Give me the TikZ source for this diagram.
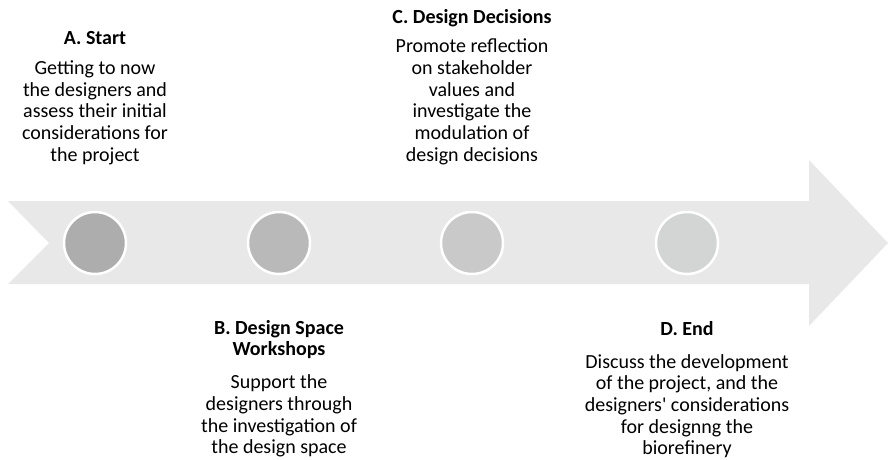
\documentclass[tikz,border=0pt]{standalone}
\usepackage{fontspec}
\setmainfont{Carlito}[Ligatures=TeXOff]
\usepackage{xcolor}
\usetikzlibrary{positioning}
\definecolor{bandgray}{HTML}{E8E8E8}
\definecolor{stageA}{HTML}{ADADAD}
\definecolor{stageB}{HTML}{B9B9B9}
\definecolor{stageC}{HTML}{C8C9C8}
\definecolor{stageD}{HTML}{D3D5D4}
\newcommand{\labelfont}{\fontsize{20}{21.7}\selectfont}
\tikzstyle{stage} = [circle, draw=white, line width=2.5pt, minimum size=62pt, inner sep=0pt]
\tikzstyle{title} = [font=\labelfont\bfseries, align=center, inner sep=0pt, execute at begin node=\strut, execute at end node=\strut]
\tikzstyle{desc} = [font=\labelfont, align=center, inner sep=0pt, execute at begin node=\strut, execute at end node=\strut]

\begin{document}
\begin{tikzpicture}[x=1pt, y=-1pt, node distance=9pt]
        \useasboundingbox (0,0) rectangle (888,459);
        % timeline arrow
        \fill[bandgray] (8,201) -- (809,201) -- (809,160) -- (888,243) -- (809,326) -- (809,284) -- (8,284) -- (49,243) -- cycle;

        \node (stage_a) [stage, fill=stageA] at (95,243) {};
        \node (stage_b) [stage, fill=stageB] at (279,243) {};
        \node (stage_c) [stage, fill=stageC] at (472,243) {};
        \node (stage_d) [stage, fill=stageD] at (687,243) {};

        % labels above the arrow
        \node (desc_a) [desc, anchor=south] at (95,168) {Getting to now\\the designers and\\assess their initial\\considerations for\\the project};
        \node (title_a) [title, above=of desc_a] {A. Start};
        \node (desc_c) [desc, anchor=south] at (472,168) {Promote reflection\\on stakeholder\\values and\\investigate the\\modulation of\\design decisions};
        \node (title_c) [title, above=of desc_c] {C. Design Decisions};

        % labels below the arrow
        \node (title_b) [title, anchor=north] at (279,320) {B. Design Space\\Workshops};
        \node (desc_b) [desc, below=12pt of title_b] {Support the\\designers through\\the investigation of\\the design space};
        \node (title_d) [title, anchor=north] at (687,320) {D. End};
        \node (desc_d) [desc, below=12pt of title_d] {Discuss the development\\of the project, and the\\designers' considerations\\for designng the\\biorefinery};
    \end{tikzpicture}
\end{document}
